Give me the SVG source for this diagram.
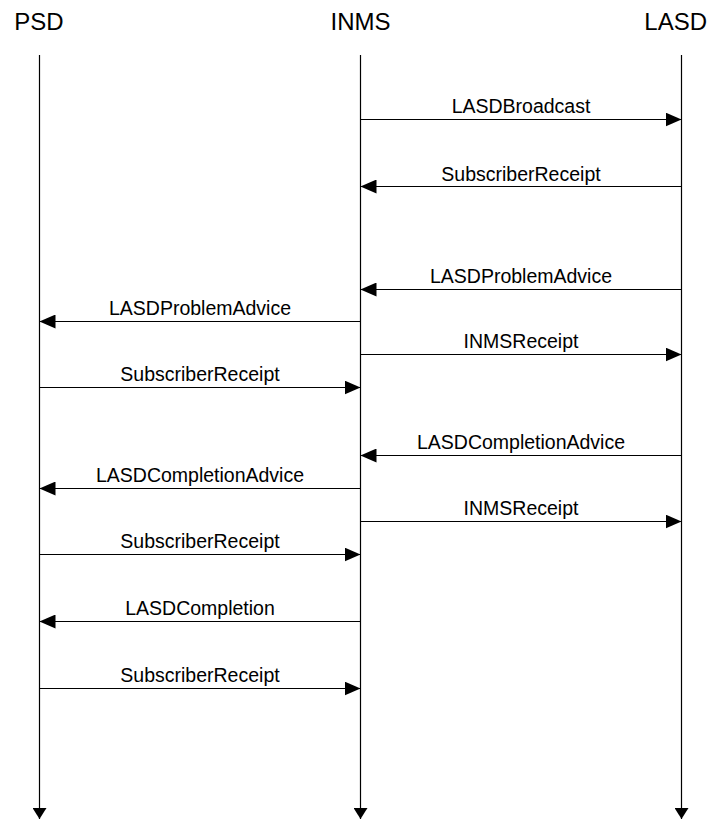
<svg xmlns="http://www.w3.org/2000/svg" width="711" height="819" viewBox="0 0 711 819">
<style>
.hdr{font-family:"Liberation Sans",Arial,sans-serif;font-size:24px;fill:#000}
.lbl{font-family:"Liberation Sans",Arial,sans-serif;font-size:19.5px;fill:#000;text-anchor:middle}
.life{stroke:#000;stroke-width:1.2;fill:none;marker-end:url(#ahd)}
.msg{stroke:#000;stroke-width:1.2;fill:none;marker-end:url(#ah)}
</style>
<defs>
<marker id="ah" markerUnits="userSpaceOnUse" markerWidth="16" markerHeight="14" refX="16" refY="7" orient="auto" viewBox="0 0 16 14">
<path d="M0,0 L16,7 L0,14 Z" fill="#000"/>
</marker>
<marker id="ahd" markerUnits="userSpaceOnUse" markerWidth="11" markerHeight="14" refX="11" refY="7" orient="auto" viewBox="0 0 11 14">
<path d="M0,0 L11,7 L0,14 Z" fill="#000"/>
</marker>
</defs>
<rect width="711" height="819" fill="#fff"/>
<g id="PSD">
<text class="hdr" x="39" y="30" text-anchor="middle">PSD</text>
<line class="life" x1="39.5" y1="55" x2="39.5" y2="819"/>
</g>
<g id="INMS">
<text class="hdr" x="360.5" y="30" text-anchor="middle">INMS</text>
<line class="life" x1="360.5" y1="55" x2="360.5" y2="819"/>
</g>
<g id="LASD">
<text class="hdr" x="707" y="30" text-anchor="end">LASD</text>
<line class="life" x1="681.5" y1="55" x2="681.5" y2="819"/>
</g>
<g id="connectors">
<line class="msg" x1="360.5" y1="119.5" x2="681.5" y2="119.5"/>
<text class="lbl" x="521" y="112.5">LASDBroadcast</text>
<line class="msg" x1="681.5" y1="186.5" x2="360.5" y2="186.5"/>
<text class="lbl" x="521" y="180.5">SubscriberReceipt</text>
<line class="msg" x1="681.5" y1="289.5" x2="360.5" y2="289.5"/>
<text class="lbl" x="521" y="282.5">LASDProblemAdvice</text>
<line class="msg" x1="360.5" y1="321.5" x2="39.5" y2="321.5"/>
<text class="lbl" x="200" y="314.5">LASDProblemAdvice</text>
<line class="msg" x1="360.5" y1="354.5" x2="681.5" y2="354.5"/>
<text class="lbl" x="521" y="347.5">INMSReceipt</text>
<line class="msg" x1="39.5" y1="387.5" x2="360.5" y2="387.5"/>
<text class="lbl" x="200" y="380.5">SubscriberReceipt</text>
<line class="msg" x1="681.5" y1="455.5" x2="360.5" y2="455.5"/>
<text class="lbl" x="521" y="448.5">LASDCompletionAdvice</text>
<line class="msg" x1="360.5" y1="488.5" x2="39.5" y2="488.5"/>
<text class="lbl" x="200" y="481.5">LASDCompletionAdvice</text>
<line class="msg" x1="360.5" y1="521.5" x2="681.5" y2="521.5"/>
<text class="lbl" x="521" y="514.5">INMSReceipt</text>
<line class="msg" x1="39.5" y1="554.5" x2="360.5" y2="554.5"/>
<text class="lbl" x="200" y="547.5">SubscriberReceipt</text>
<line class="msg" x1="360.5" y1="621.5" x2="39.5" y2="621.5"/>
<text class="lbl" x="200" y="614.5">LASDCompletion</text>
<line class="msg" x1="39.5" y1="688.5" x2="360.5" y2="688.5"/>
<text class="lbl" x="200" y="681.5">SubscriberReceipt</text>
</g>
</svg>
